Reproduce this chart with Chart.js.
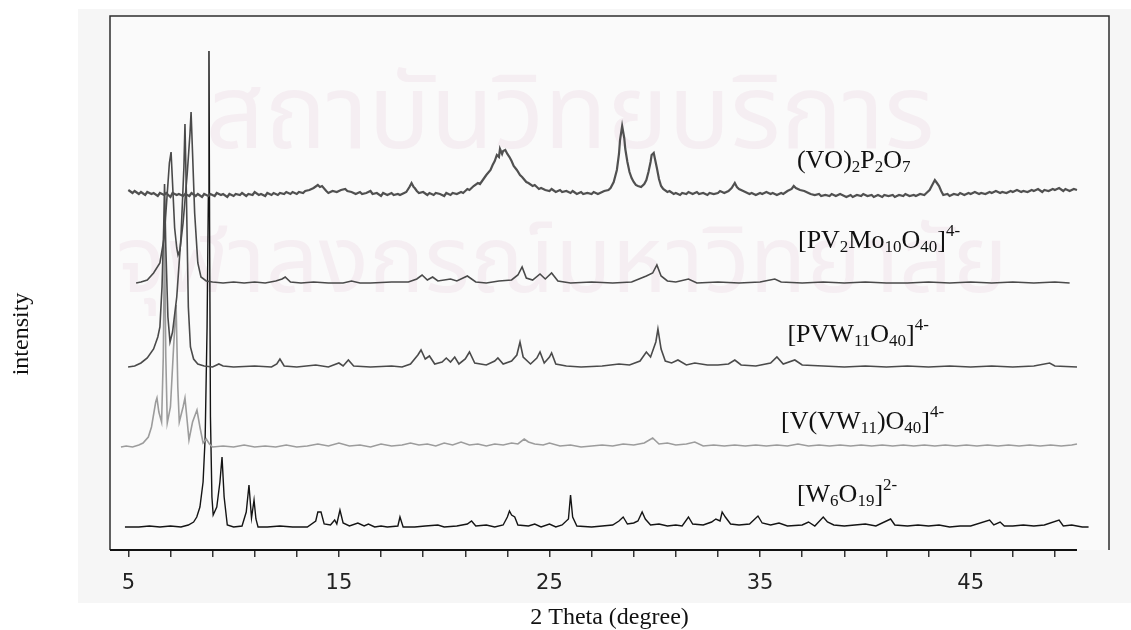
<!DOCTYPE html>
<html>
<head>
<meta charset="utf-8">
<title>XRD patterns</title>
<script src="https://cdn.jsdelivr.net/npm/chart.js@4.4.1/dist/chart.umd.min.js"></script>
<style>
  html, body { margin: 0; padding: 0; background: #fff; }
  #wrap { width: 1131px; height: 630px; }
</style>
</head>
<body>
<div id="wrap"><canvas id="xrd" width="1131" height="630"></canvas></div>
<script>
// ==== DATA: [2theta (deg), intensity above own baseline (a.u.)] ====
const vopPattern = [[5.0,4],[5.2,1],[5.3,3],[5.5,0],[5.6,2],[5.8,-1],[5.9,2],[6.1,0],[6.2,1],[6.4,-2],[6.5,1],[6.7,-1],[6.8,1],[7.0,-3],[7.1,1],[7.3,-1],[7.4,0],[7.6,-2],[7.7,0],[7.9,-2],[8.0,1],[8.2,-2],[8.3,0],[8.5,-3],[8.6,0],[8.8,-2],[8.9,0],[9.1,-2],[9.2,1],[9.4,-1],[9.5,0],[9.7,-3],[9.8,0],[10.0,-2],[10.1,0],[10.3,-1],[10.4,1],[10.6,-2],[10.7,0],[10.9,-1],[11.0,2],[11.2,-1],[11.3,0],[11.5,-2],[11.6,1],[11.8,-1],[11.9,1],[12.1,-1],[12.2,1],[12.4,0],[12.5,2],[12.7,0],[12.8,2],[13.0,0],[13.1,2],[13.3,1],[13.4,3],[13.6,4],
    [13.8,6],[14.0,9],[14.1,7],[14.2,8],[14.4,3],[14.5,1],[14.7,3],[14.9,2],[15.1,4],[15.3,5],[15.4,3],[15.6,2],[15.8,0],[16.0,2],[16.1,0],[16.3,1],[16.5,3],[16.6,0],[16.8,1],[17.0,-2],[17.1,1],[17.3,-1],[17.5,1],[17.6,-1],[17.8,0],[17.9,-1],[18.1,1],[18.2,2],[18.35,7],[18.45,11],[18.55,7],[18.6,6],[18.7,3],[18.8,1],[19.0,2],[19.2,-1],[19.3,1],[19.5,-1],[19.6,1],[19.8,0],[20.0,-2],[20.1,1],[20.3,-1],[20.4,1],[20.6,0],[20.8,2],[20.9,1],[21.1,5],[21.2,4],[21.4,8],[21.6,11],[21.7,10],[21.9,16],[22.0,19],[22.2,24],[22.3,29],[22.4,33],[22.5,39],[22.6,37],[22.65,45],[22.75,40],[22.8,43],[22.9,44],[23.0,40],[23.1,37],[23.2,33],[23.3,28],[23.45,24],[23.6,19],[23.7,17],[23.9,12],[24.0,11],[24.2,8],[24.3,9],[24.5,5],[24.6,6],[24.8,4],[25.0,3],[25.1,5],[25.3,2],[25.5,4],[25.6,2],[25.8,3],[26.0,1],[26.1,3],[26.3,0],[26.5,2],[26.6,0],[26.8,1],[27.0,0],[27.1,2],[27.3,0],[27.5,2],[27.6,3],[27.8,4],[27.9,6],
    [28.05,12],[28.2,24],[28.3,40],[28.35,54],[28.45,68],[28.5,62],[28.55,56],[28.6,45],[28.7,32],[28.8,22],[28.9,16],[29.0,12],[29.1,9],[29.2,8],[29.35,7],[29.5,10],[29.6,14],[29.7,22],[29.8,32],[29.85,39],[29.95,41],[30.0,36],[30.1,26],[30.2,15],[30.3,8],[30.4,5],[30.6,2],[30.7,3],[30.9,0],[31.0,1],[31.2,-1],[31.3,1],[31.5,0],[31.6,2],[31.8,0],[32.0,2],[32.1,0],[32.3,1],[32.5,-1],[32.6,1],[32.8,0],[33.0,1],[33.1,3],[33.3,1],[33.5,3],[33.65,6],[33.8,11],[33.9,7],[34.0,5],[34.2,3],[34.3,2],[34.5,0],[34.6,1],[34.8,-1],[35.0,1],[35.1,0],[35.3,2],[35.5,0],[35.6,1],[35.8,-1],[36.0,1],[36.1,0],[36.3,3],[36.5,5],[36.6,8],[36.7,6],[36.9,4],[37.1,3],[37.3,1],[37.4,0],[37.6,-1],[37.8,0],[37.9,-2],[38.1,-1],[38.3,-2],[38.4,0],[38.6,-2],[38.8,0],[38.9,-1],[39.1,-3],[39.3,-1],[39.4,-3],[39.6,-1],[39.8,-2],[39.9,0],[40.1,-2],[40.3,-1],[40.4,-3],[40.6,-1],[40.8,-3],[40.9,-1],[41.1,-2],[41.3,-1],[41.4,-3],[41.6,-1],[41.8,-2],[41.9,0],[42.1,-2],[42.3,-1],[42.4,-2],[42.6,0],[42.8,-1],[42.9,1],
    [43.05,4],[43.15,8],[43.3,14],[43.4,11],[43.5,8],[43.6,3],[43.7,-1],[43.9,0],[44.0,-2],[44.2,0],[44.4,-1],[44.5,1],[44.7,-1],[44.9,1],[45.0,0],[45.2,2],[45.4,0],[45.5,1],[45.7,0],[45.9,2],[46.0,1],[46.2,3],[46.4,1],[46.5,2],[46.7,1],[46.9,3],[47.0,2],[47.2,4],[47.4,2],[47.5,3],[47.7,2],[47.9,4],[48.0,3],[48.2,5],[48.4,2],[48.5,4],[48.7,3],[48.9,5],[49.0,4],[49.2,6],[49.4,3],[49.5,5],[49.7,3],[49.9,5],[50.05,4]];

const pv2Pattern = [[5.37,0],[5.6,1],[5.9,3],[6.2,10],[6.5,20],[6.7,45],[6.85,90],[6.95,120],[7.03,131],[7.1,100],[7.2,55],[7.3,35],[7.36,28],[7.45,33],[7.6,60],[7.8,110],[7.93,150],[7.98,171],[8.05,130],[8.15,70],[8.3,20],[8.45,6],[8.7,2],[9.0,1],[9.5,0],[10.0,1],[10.5,0],[11.0,1],[11.5,0],[12.0,2],[12.3,4],[12.45,6],[12.7,1],[13.2,0],[13.8,1],[14.5,0],[15.2,0],[15.6,2],[16.0,0],[16.5,0],[17.5,1],[18.3,1],[18.7,4],[18.95,8],[19.2,3],[19.45,6],[19.7,2],[20.3,4],[20.6,2],[21.1,7],[21.5,1],[22.0,0],[22.6,2],[23.2,3],[23.5,8],[23.7,16],[23.9,5],[24.2,3],[24.55,9],[24.8,4],[25.1,10],[25.4,2],[26.0,0],[27.0,1],[28.0,0],[28.9,1],[29.6,7],[29.9,10],[30.1,18],[30.3,7],[30.6,2],[31.0,1],[31.6,4],[32.0,0],[33.0,1],[34.0,0],[35.0,1],[35.7,4],[36.0,1],[37.0,0],[38.0,1],[39.0,0],[40.0,1],[41.0,0],[42.0,0],[43.0,1],[44.0,0],[45.0,1],[46.0,0],[47.0,1],[48.0,0],[49.0,1],[49.7,0]];

const pvwPattern = [[4.99,0],[5.3,1],[5.6,4],[5.9,9],[6.2,18],[6.4,30],[6.5,40],[6.6,80],[6.68,140],[6.72,183],[6.78,120],[6.88,50],[6.98,25],[7.1,35],[7.3,70],[7.5,130],[7.64,200],[7.69,243],[7.76,170],[7.85,60],[7.95,20],[8.1,8],[8.3,3],[8.6,1],[9.0,0],[9.3,3],[9.5,1],[10.0,0],[11.0,1],[11.8,0],[12.05,3],[12.2,8],[12.4,1],[13.0,0],[13.9,2],[14.5,0],[15.0,4],[15.2,1],[15.45,7],[15.7,1],[16.5,0],[17.5,1],[18.0,0],[18.4,3],[18.75,12],[18.9,17],[19.1,8],[19.3,11],[19.55,3],[19.9,5],[20.1,9],[20.3,5],[20.5,10],[20.7,3],[21.0,8],[21.2,15],[21.45,4],[22.0,2],[22.4,6],[22.55,9],[22.8,3],[23.2,6],[23.45,12],[23.6,25],[23.75,10],[24.1,3],[24.4,9],[24.55,15],[24.75,4],[25.0,10],[25.1,14],[25.3,3],[25.8,1],[26.5,0],[27.5,1],[28.3,3],[28.8,2],[29.3,6],[29.6,15],[29.8,10],[30.05,25],[30.15,38],[30.3,18],[30.5,6],[30.8,4],[31.1,7],[31.5,2],[31.9,4],[32.5,2],[33.0,2],[33.5,3],[33.8,7],[34.1,2],[34.8,1],[35.5,4],[35.8,10],[36.1,3],[36.65,7],[37.0,2],[38.0,1],[39.0,0],[40.0,1],[41.0,0],[42.0,1],[43.0,0],[44.0,1],[45.0,0],[46.0,1],[47.0,0],[48.0,1],[48.75,4],[49.0,1],[50.05,0]];

const vvwPattern = [[4.65,0],[4.9,1],[5.2,0],[5.5,2],[5.7,4],[5.95,10],[6.1,20],[6.3,45],[6.36,49],[6.45,35],[6.58,25],[6.66,90],[6.72,215],[6.78,90],[6.85,24],[7.0,40],[7.15,100],[7.27,142],[7.35,60],[7.42,25],[7.6,40],[7.69,49],[7.8,25],[7.88,7],[8.05,25],[8.26,37],[8.4,20],[8.55,4],[8.7,8],[8.85,3],[9.0,0],[9.5,1],[10.0,0],[10.5,2],[11.0,0],[11.5,1],[12.0,0],[12.5,2],[13.0,0],[13.5,1],[14.0,3],[14.5,1],[15.0,4],[15.5,1],[16.0,2],[16.5,0],[17.0,3],[17.5,1],[18.0,2],[18.4,4],[18.8,2],[19.2,3],[19.6,1],[20.0,4],[20.4,2],[20.8,5],[21.2,2],[21.6,3],[22.0,1],[22.4,3],[22.8,2],[23.2,4],[23.5,3],[23.8,8],[24.0,5],[24.3,3],[24.7,2],[25.0,4],[25.5,1],[26.0,2],[26.5,0],[27.0,1],[27.5,2],[28.0,1],[28.5,3],[29.0,2],[29.5,4],[29.9,9],[30.2,3],[30.6,4],[31.0,2],[31.5,3],[31.9,5],[32.3,1],[32.8,2],[33.3,1],[33.8,2],[34.3,1],[34.8,2],[35.3,1],[35.8,2],[36.3,1],[36.8,3],[37.3,1],[37.8,2],[38.3,1],[38.8,2],[39.3,1],[39.8,2],[40.3,1],[40.8,2],[41.3,1],[41.8,2],[42.3,1],[42.8,2],[43.3,1],[43.8,2],[44.3,1],[44.8,2],[45.3,1],[45.8,2],[46.3,1],[46.8,2],[47.3,1],[47.8,2],[48.3,1],[48.8,2],[49.3,1],[49.8,2],[50.05,3]];

const w6Pattern = [[4.84,0],[5.5,0],[6.0,1],[6.5,0],[7.0,1],[7.5,0],[7.85,2],[8.1,5],[8.25,10],[8.4,20],[8.55,45],[8.65,90],[8.74,200],[8.8,330],[8.83,476],[8.86,300],[8.9,110],[8.97,30],[9.03,12],[9.2,20],[9.35,45],[9.45,70],[9.55,30],[9.7,2],[10.0,0],[10.4,1],[10.6,15],[10.73,42],[10.85,9],[10.97,27],[11.06,8],[11.16,0],[11.6,0],[12.2,1],[12.8,0],[13.5,0],[13.9,6],[14.0,15],[14.15,15],[14.3,3],[14.6,2],[14.8,7],[14.9,3],[15.05,17],[15.2,4],[15.5,1],[15.9,4],[16.2,1],[16.4,3],[16.7,0],[17.0,1],[17.3,0],[17.8,1],[17.9,10],[18.05,0],[18.6,0],[19.1,1],[19.7,2],[20.0,0],[20.6,1],[21.1,3],[21.3,6],[21.5,1],[22.0,2],[22.4,0],[22.8,2],[23.0,10],[23.1,16],[23.2,12],[23.35,10],[23.5,2],[24.0,1],[24.3,3],[24.6,0],[25.0,3],[25.3,0],[25.6,2],[25.9,8],[26.0,32],[26.1,10],[26.3,1],[27.0,0],[27.5,1],[28.0,2],[28.3,6],[28.5,10],[28.7,3],[29.0,4],[29.2,6],[29.4,15],[29.55,8],[29.8,2],[30.2,3],[30.6,1],[31.0,2],[31.3,1],[31.6,10],[31.8,3],[32.3,2],[32.7,5],[32.9,8],[33.1,6],[33.2,15],[33.35,10],[33.6,3],[34.0,2],[34.5,3],[34.9,11],[35.1,4],[35.5,2],[35.9,4],[36.3,1],[37.0,2],[37.3,5],[37.6,1],[38.0,10],[38.2,5],[38.5,2],[39.0,1],[39.5,2],[40.0,3],[40.5,1],[41.2,8],[41.4,2],[42.0,1],[42.5,2],[43.0,1],[43.5,2],[44.0,0],[44.5,1],[45.0,1],[45.9,7],[46.1,2],[46.4,5],[46.6,1],[47.0,1],[47.5,2],[48.0,1],[48.5,2],[49.2,7],[49.4,1],[49.8,2],[50.3,0],[50.6,0]];

// stacking offsets (a.u.), top trace first
const offsets = [356, 267, 183, 103, 23];
const seriesNames = ['(VO)2P2O7', '[PV2Mo10O40]4-', '[PVW11O40]4-', '[V(VW11)O40]4-', '[W6O19]2-'];

// axis
const thetaRange = [4.13, 51.57];
const tickSteps = [5, 7, 9, 11, 13, 15, 17, 19, 21, 23, 25, 27, 29, 31, 33, 35, 37, 39, 41, 43, 45, 47, 49];
const tickLabels = [5, 15, 25, 35, 45];

// formula labels: [text, 0 normal / 1 sub / 2 sup]
const formulaParts = [
    [['(VO)',0],['2',1],['P',0],['2',1],['O',0],['7',1]],
    [['[PV',0],['2',1],['Mo',0],['10',1],['O',0],['40',1],[']',0],['4-',2]],
    [['[PVW',0],['11',1],['O',0],['40',1],[']',0],['4-',2]],
    [['[V(VW',0],['11',1],[')O',0],['40',1],[']',0],['4-',2]],
    [['[W',0],['6',1],['O',0],['19',1],[']',0],['2-',2]]
];

// ==== STYLE ====
const patterns = [vopPattern, pv2Pattern, pvwPattern, vvwPattern, w6Pattern];
const lineColors = ['#505050', '#4a4a4a', '#4a4a4a', '#9c9c9c', '#141414'];
const lineWidths = [2.2, 1.6, 1.6, 1.6, 1.4];
const labelSpots = [[36.75, 382], [36.8, 302], [36.3, 208], [36.0, 121], [36.75, 48]];

const serif = '"Liberation Serif", "Times New Roman", serif';

function drawFormula(ctx, parts, x, y) {
    let cx = x;
    parts.forEach(([txt, kind]) => {
        ctx.font = (kind === 0 ? '26px ' : '17px ') + serif;
        const dy = kind === 1 ? 4 : (kind === 2 ? -12 : 0);
        ctx.fillText(txt, cx, y + dy);
        cx += ctx.measureText(txt).width;
    });
}

// ===== BACKGROUND, WATERMARK, FRAME, LABELS =====
const decor = {
    id: 'decor',
    beforeDraw(chart) {
        const { ctx, chartArea: a } = chart;
        ctx.save();
        ctx.fillStyle = '#f6f6f6';
        ctx.fillRect(78, 9, chart.width - 78, 594);
        ctx.fillStyle = '#fafafa';
        ctx.fillRect(a.left, a.top, a.right - a.left, a.bottom - a.top);

        // faint watermark
        ctx.fillStyle = 'rgba(205, 150, 180, 0.11)';
        ctx.textAlign = 'center';
        ctx.textBaseline = 'alphabetic';
        const wm = [['สถาบันวิทยบริการ', 570, 148, 730], ['จุฬาลงกรณ์มหาวิทยาลัย', 562, 292, 895]];
        wm.forEach(([t, x, y, w]) => {
            ctx.font = '100px "Noto Sans Thai", "Noto Sans", sans-serif';
            const m = ctx.measureText(t).width;
            ctx.font = Math.round(100 * w / m) + 'px "Noto Sans Thai", "Noto Sans", sans-serif';
            ctx.fillText(t, x, y);
        });
        ctx.restore();
    },
    afterDraw(chart) {
        const { ctx, chartArea: a } = chart;
        const xs = chart.scales.x, ys = chart.scales.y;
        ctx.save();
        // frame
        ctx.strokeStyle = '#2e2e2e';
        ctx.lineWidth = 1.5;
        ctx.beginPath();
        ctx.moveTo(a.left, a.bottom);
        ctx.lineTo(a.left, a.top);
        ctx.lineTo(a.right, a.top);
        ctx.lineTo(a.right, a.bottom);
        ctx.stroke();
        // axis line
        ctx.strokeStyle = '#111';
        ctx.lineWidth = 2;
        ctx.beginPath();
        ctx.moveTo(a.left, a.bottom);
        ctx.lineTo(xs.getPixelForValue(50.05), a.bottom);
        ctx.stroke();

        // sample labels
        ctx.fillStyle = '#111';
        ctx.textAlign = 'left';
        ctx.textBaseline = 'alphabetic';
        formulaParts.forEach((parts, i) => {
            drawFormula(ctx, parts, xs.getPixelForValue(labelSpots[i][0]), ys.getPixelForValue(labelSpots[i][1]));
        });

        // y title
        ctx.translate(22, 334);
        ctx.rotate(-Math.PI / 2);
        ctx.textAlign = 'center';
        ctx.textBaseline = 'middle';
        ctx.font = '24px ' + serif;
        ctx.fillText('intensity', 0, 0);
        ctx.restore();
    }
};

new Chart(document.getElementById('xrd'), {
    type: 'scatter',
    data: {
        datasets: patterns.map((pts, i) => ({
            label: seriesNames[i],
            data: pts.map(p => ({ x: p[0], y: p[1] + offsets[i] })),
            showLine: true,
            borderColor: lineColors[i],
            borderWidth: lineWidths[i],
            pointRadius: 0,
            tension: 0,
            fill: false
        }))
    },
    options: {
        responsive: false,
        animation: false,
        devicePixelRatio: 1,
        layout: { padding: { left: 110, right: 22, top: 16, bottom: 0 } },
        plugins: { legend: { display: false }, tooltip: { enabled: false } },
        scales: {
            x: {
                type: 'linear',
                min: thetaRange[0],
                max: thetaRange[1],
                afterBuildTicks: s => { s.ticks = tickSteps.map(v => ({ value: v })); },
                afterFit: s => { s.height = 80; },
                ticks: {
                    autoSkip: false,
                    maxRotation: 0,
                    padding: 14,
                    color: '#222',
                    font: { family: '"DejaVu Sans", sans-serif', size: 21 },
                    callback: v => tickLabels.includes(v) ? String(v) : ''
                },
                grid: { display: true, drawOnChartArea: false, drawTicks: true, tickLength: 7, color: '#333', lineWidth: 1.5 },
                border: { display: false },
                title: {
                    display: true,
                    text: '2 Theta (degree)',
                    color: '#111',
                    font: { family: serif, size: 24, lineHeight: 1 },
                    padding: { top: 0, bottom: 0 }
                }
            },
            y: { display: false, min: 0, max: 534 }
        }
    },
    plugins: [decor]
});
</script>
</body>
</html>
